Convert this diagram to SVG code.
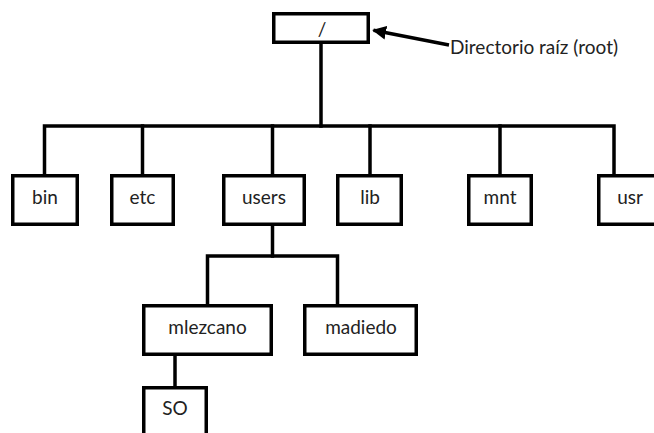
<svg xmlns="http://www.w3.org/2000/svg" width="654" height="433" viewBox="0 0 654 433">
  <style>
    .box { fill: #ffffff; stroke: #000000; stroke-width: 3.5; }
    .wire { fill: none; stroke: #000000; stroke-width: 3.5; stroke-linejoin: miter; stroke-linecap: square; }
    .lbl { font-family: Lato, "Liberation Sans", sans-serif; font-size: 19px; fill: #222222; text-anchor: middle; }
    .note { font-family: Lato, "Liberation Sans", sans-serif; font-size: 19px; fill: #222222; }
  </style>
  <defs>
    <marker id="head" viewBox="0 0 10 10" refX="9" refY="5" markerWidth="4" markerHeight="4" orient="auto" markerUnits="strokeWidth">
      <path d="M0,0 L10,5 L0,10 z" fill="#000000"/>
    </marker>
  </defs>
  <rect width="654" height="433" fill="#ffffff"/>

  <g id="connectors">
    <path class="wire" d="M321,44 V126"/>
    <path class="wire" d="M44.5,174 V126 H614 V174"/>
    <path class="wire" d="M142.5,126 V174"/>
    <path class="wire" d="M272.5,126 V174"/>
    <path class="wire" d="M370,126 V174"/>
    <path class="wire" d="M500,126 V174"/>
    <path class="wire" d="M272.5,226 V256"/>
    <path class="wire" d="M207.5,304 V256 H337.5 V304"/>
    <path class="wire" d="M175,356 V386"/>
    <line x1="449" y1="45" x2="373.5" y2="30.3" stroke="#000000" stroke-width="3.5" marker-end="url(#head)"/>
  </g>

  <g id="root">
    <rect class="box" x="273.75" y="13.75" width="94.5" height="28.5"/>
    <text class="lbl" x="322" y="36">/</text>
  </g>
  <g id="root-note">
    <text class="note" x="450" y="54">Directorio raíz (root)</text>
  </g>

  <g id="bin">
    <rect class="box" x="12.75" y="175.75" width="64.5" height="48.5"/>
    <text class="lbl" x="45" y="204">bin</text>
  </g>
  <g id="etc">
    <rect class="box" x="111.75" y="175.75" width="61.5" height="48.5"/>
    <text class="lbl" x="142.5" y="204">etc</text>
  </g>
  <g id="users">
    <rect class="box" x="223.75" y="175.75" width="80.5" height="48.5"/>
    <text class="lbl" x="264" y="204">users</text>
  </g>
  <g id="lib">
    <rect class="box" x="337.75" y="175.75" width="63.5" height="48.5"/>
    <text class="lbl" x="370" y="204">lib</text>
  </g>
  <g id="mnt">
    <rect class="box" x="468.75" y="175.75" width="62.5" height="48.5"/>
    <text class="lbl" x="500" y="204">mnt</text>
  </g>
  <g id="usr">
    <rect class="box" x="598.75" y="175.75" width="62.5" height="48.5"/>
    <text class="lbl" x="630" y="204">usr</text>
  </g>

  <g id="mlezcano">
    <rect class="box" x="143.75" y="305.75" width="127.5" height="48.5"/>
    <text class="lbl" x="207.5" y="334">mlezcano</text>
  </g>
  <g id="madiedo">
    <rect class="box" x="304.75" y="305.75" width="111.5" height="48.5"/>
    <text class="lbl" x="361" y="334">madiedo</text>
  </g>
  <g id="SO">
    <rect class="box" x="143.75" y="387.75" width="62.5" height="48.5"/>
    <text class="lbl" x="175" y="415">SO</text>
  </g>
</svg>
